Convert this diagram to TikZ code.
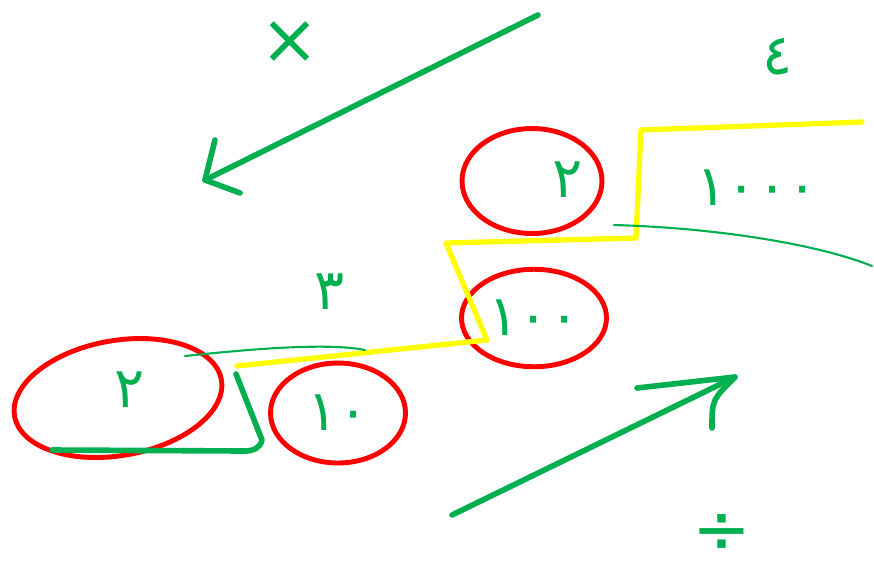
\documentclass[tikz,border=0pt]{standalone}
\usepackage{fontspec}
\usetikzlibrary{shapes.geometric}
\newfontfamily\arabicfont[Script=Arabic]{DejaVu Sans}
\definecolor{inkgreen}{RGB}{0,176,80}
\definecolor{inkred}{RGB}{255,0,0}
\definecolor{inkyellow}{RGB}{255,255,0}
\tikzset{
  pen/.style={draw=inkgreen, line width=3.2pt, line cap=round, line join=round},
  thinpen/.style={draw=inkgreen, line width=1.2pt, line cap=round},
  ring/.style={ellipse, draw=inkred, line width=2.8pt, inner sep=0pt},
  num/.style={text=inkgreen, font=\arabicfont\fontsize{32}{34}\selectfont},
  sign/.style={text=inkgreen, inner sep=1pt, text height=0.9em, text depth=-0.2em,
    font=\arabicfont\fontsize{40}{42}\selectfont},
}

\begin{document}
\begin{tikzpicture}[x=0.02cm, y=-0.02cm]
\useasboundingbox (0,0) rectangle (874,569);
% circled numbers
\node[ring, minimum width=4.2cm, minimum height=2.3cm, rotate=10] (two) at (118,398) {};
\node[num] (twotxt) at (130,390) {٢};
\node[ring, num, minimum width=2.7cm, minimum height=2cm] (ten) at (338,413) {١٠};
\node[ring, num, minimum width=2.9cm, minimum height=1.95cm] (hundred) at (534,318) {١٠٠};
\node[ring, minimum width=2.8cm, minimum height=2.1cm] (top) at (532,181) {};
\node[num] (toptxt) at (568,180) {٢};
\node[num] (thousand) at (757,188) {١٠٠٠};
% digit counts
\node[num] (three) at (330,292) {٣};
\node[num] (four) at (778,57) {٤};
% steps
\draw[draw=inkyellow, line width=3pt, line join=round, line cap=round]
  (237,366) -- (487,340) -- (446,243) -- (636,238) -- (641,130) -- (862,122);
\draw[pen] (236,374) -- (262,440) to[out=-100,in=0] (245,451) -- (52,450);
\draw[thinpen] (185,356) .. controls (260,348) and (330,343) .. (365,350);
\draw[thinpen] (614,225) .. controls (720,228) and (820,245) .. (872,266);
% times arrow
\coordinate (mulstart) at (538,15);
\coordinate (mulend) at (205,180);
\draw[pen] (mulstart) -- (mulend);
\draw[pen] (215,140) -- (mulend) -- (240,193);
\node[sign] (times) at (290,56) {×};
% divide arrow
\coordinate (divstart) at (452,515);
\coordinate (divend) at (735,377);
\draw[pen] (divstart) -- (divend);
\draw[pen] (637,388) -- (divend) .. controls (712,400) .. (712,428);
\node[sign] (divide) at (722,546) {÷};
\end{tikzpicture}
\end{document}
